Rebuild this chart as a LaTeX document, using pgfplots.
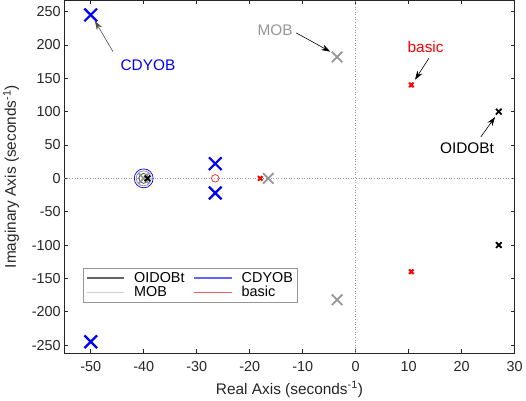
\documentclass[border=0pt]{standalone}
\usepackage{pgfplots}
\pgfplotsset{compat=1.18}
\usepackage{fontspec}
\setmainfont{Liberation Sans}
\usetikzlibrary{arrows.meta}
\definecolor{axc}{RGB}{38,38,38}
\definecolor{mobg}{RGB}{150,150,150}
\definecolor{oidl}{RGB}{100,100,100}
\definecolor{cdyl}{RGB}{100,100,255}
\definecolor{mobl}{RGB}{205,205,205}
\definecolor{basl}{RGB}{255,90,90}
\begin{document}
\begin{tikzpicture}
\begin{axis}[
  scale only axis, width=452bp, height=354bp,
  xmin=-55, xmax=30, ymin=-262, ymax=267,
  xtick={-50,-40,...,30}, ytick={-250,-200,...,250},
  tick align=inside, major tick length=4bp,
  axis line style={axc, line width=0.5pt},
  every tick/.style={axc, line width=0.5pt},
  tick label style={font=\fontsize{14.5}{16}\selectfont, text=axc},
  xticklabel style={yshift=-5bp},
  label style={font=\fontsize{15.5}{18}\selectfont, text=axc},
  /pgf/number format/assume math mode=true,
  xlabel={Real Axis (seconds\textsuperscript{-1})},
  ylabel={Imaginary Axis (seconds\textsuperscript{-1})},
  xlabel style={yshift=-3bp},
  ylabel style={yshift=6bp},
  clip=false,
  legend columns=2,
  legend style={at={(0.042,0.142)}, anchor=south west, draw=mobg, line width=0.6pt,
    font=\fontsize{14.5}{16}\selectfont, inner sep=2.5bp,
    column sep=7bp, row sep=-1.5bp},
  legend cell align=left,
  legend image code/.code={\draw[#1, line width=1.4pt] (0bp,0bp) -- (38bp,0bp);},
]
\addlegendimage{draw=oidl}\addlegendentry{OIDOBt}
\addlegendimage{draw=cdyl}\addlegendentry{CDYOB}
\addlegendimage{draw=mobl}\addlegendentry{MOB}
\addlegendimage{draw=basl}\addlegendentry{basic}
% grid lines
\addplot[mobg, dotted, line width=0.6pt, forget plot] coordinates {(-55,0) (30,0)};
\addplot[mobg, dotted, line width=0.6pt, forget plot] coordinates {(0,-262) (0,267)};
% CDYOB zero
\addplot[only marks, mark=o, mark size=9.5bp, mark options={blue, line width=0.7pt}, forget plot] coordinates {(-40,0)};
% MOB zero
\addplot[only marks, mark=o, mark size=7.5bp, mark options={mobg, line width=0.8pt}, forget plot] coordinates {(-40,0)};
% OIDOBt zero
\addplot[only marks, mark=o, mark size=5bp, mark options={black!70, line width=0.8pt}, forget plot] coordinates {(-40,0)};
% basic zero
\addplot[only marks, mark=o, mark size=3.8bp, mark options={red, line width=0.6pt}, forget plot] coordinates {(-26.5,0)};
% MOB poles
\addplot[only marks, mark=x, mark size=7.5bp, mark options={mobg, line width=1.8pt}, forget plot] coordinates {(-3.5,182) (-3.5,-182) (-16.5,0) (-40,0)};
% CDYOB poles
\addplot[only marks, mark=x, mark size=9bp, mark options={blue, line width=2.2pt}, forget plot] coordinates {(-50,245) (-50,-245) (-26.5,22) (-26.5,-22)};
% basic poles
\addplot[only marks, mark=x, mark size=3.2bp, mark options={red, line width=2pt}, forget plot] coordinates {(10.5,140) (10.5,-140) (-18,0)};
% OIDOBt poles
\addplot[only marks, mark=x, mark size=4bp, mark options={black, line width=1.8pt}, forget plot] coordinates {(27,100) (27,-100) (-39.3,0)};
% annotations
\node[blue, font=\fontsize{15.5}{18}\selectfont] at (axis cs:-39.2,169) {CDYOB};
\draw[-{Stealth[length=9bp,width=6bp]}, black!70, line width=0.6pt] (axis cs:-45.8,190) -- (axis cs:-49.2,236);
\node[mobg, font=\fontsize{15.5}{18}\selectfont] at (axis cs:-15.2,222) {MOB};
\draw[-{Stealth[length=9bp,width=6bp]}, black, line width=0.6pt] (axis cs:-11.2,218) -- (axis cs:-4.8,190);
\node[red, font=\fontsize{15.5}{18}\selectfont] at (axis cs:13.2,197) {basic};
\draw[-{Stealth[length=9bp,width=6bp]}, black, line width=0.6pt] (axis cs:13.8,180) -- (axis cs:11.2,148);
\node[black, font=\fontsize{15.5}{18}\selectfont] at (axis cs:21,45) {OIDOBt};
\draw[-{Stealth[length=9bp,width=6bp]}, black, line width=0.6pt] (axis cs:23.6,62) -- (axis cs:26.3,92);
\end{axis}
\end{tikzpicture}
\end{document}
